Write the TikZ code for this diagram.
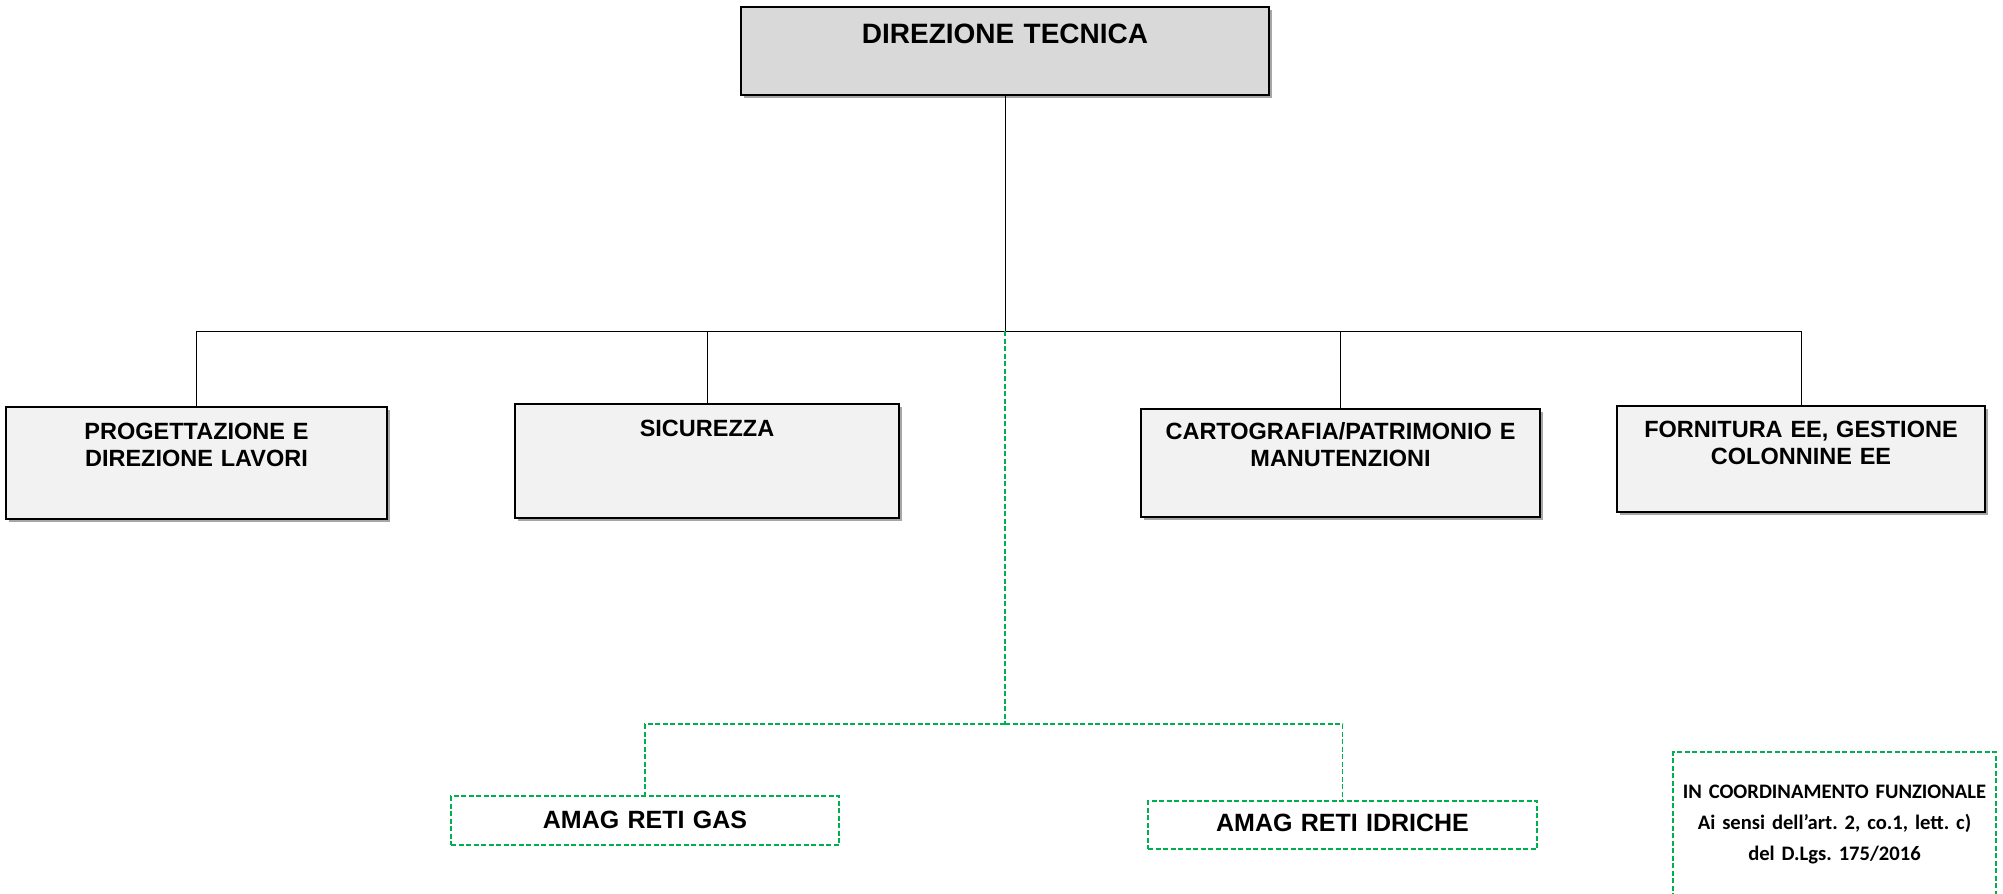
\documentclass[tikz,border=0pt]{standalone}
\usepackage{fontspec}
\setmainfont{Liberation Sans}
\newfontfamily\notefont{Carlito}
\usepackage{xcolor}
\usetikzlibrary{shadows}
\definecolor{head-gray}{HTML}{D9D9D9}
\definecolor{unit-gray}{HTML}{F2F2F2}
\definecolor{coord-green}{HTML}{00B050}
\frenchspacing
\tikzset{
    head-box/.style = {draw=black, fill=head-gray, line width=1.4pt, rectangle, anchor=base, align=center, inner sep=0pt, font=\fontsize{28}{32}\selectfont\bfseries, drop shadow={shadow xshift=3pt, shadow yshift=-3pt, fill=black, opacity=0.35}},
    unit-box/.style = {draw=black, fill=unit-gray, line width=1.2pt, rectangle, anchor=base, align=center, inner sep=0pt, font=\fontsize{23.5}{27.5}\selectfont\bfseries, drop shadow={shadow xshift=3pt, shadow yshift=-3pt, fill=black, opacity=0.35}},
    ext-box/.style = {draw=coord-green, fill=white, line width=1.4pt, dash pattern=on 5pt off 2.5pt, rectangle, anchor=base, align=center, inner sep=0pt, font=\fontsize{25}{29}\selectfont\bfseries},
    note-box/.style = {draw=coord-green, line width=1.4pt, dash pattern=on 5pt off 2.5pt, rectangle, anchor=base, align=center, inner sep=0pt, font=\notefont\fontsize{20.6}{31}\selectfont\bfseries},
    tree-line/.style = {draw=black, line width=0.9pt},
    coord-line/.style = {draw=coord-green, line width=1.4pt, dash pattern=on 5pt off 2.5pt},
}
\begin{document}
\begin{tikzpicture}[x=1pt, y=-1pt]
\useasboundingbox (0,0) rectangle (2003,894);
\node[head-box, text width=528pt, text height=36pt, text depth=52pt] (dt) at (1005,43) {DIREZIONE TECNICA};
\node[unit-box, text width=381pt, text height=32pt, text depth=80pt] (progettazione) at (196.5,439) {PROGETTAZIONE E\\DIREZIONE LAVORI};
\node[unit-box, text width=384pt, text height=32pt, text depth=82pt] (sicurezza) at (707,436) {SICUREZZA};
\node[unit-box, text width=399pt, text height=30pt, text depth=78pt] (cartografia) at (1340.5,439) {CARTOGRAFIA/PATRIMONIO E\\MANUTENZIONI};
\node[unit-box, text width=368pt, text height=31pt, text depth=75pt] (fornitura) at (1801,437) {FORNITURA EE, GESTIONE\\COLONNINE EE};
\node[ext-box, text width=388pt, text height=32pt, text depth=17pt] (gas) at (645,828) {AMAG RETI GAS};
\node[ext-box, text width=389pt, text height=30pt, text depth=18pt] (idriche) at (1342.5,831) {AMAG RETI IDRICHE};
\node[note-box, text width=323pt, text height=46pt, text depth=112pt] (nota) at (1834.5,798) {IN COORDINAMENTO FUNZIONALE\\Ai sensi dell’art. 2, co.1, lett. c)\\del D.Lgs. 175/2016};
\coordinate (bus) at (dt.south |- 0,331);
\coordinate (green-bus) at (dt.south |- 0,724);
\draw[tree-line] (dt.south) -- (bus);
\draw[tree-line] (bus) -| (progettazione.north);
\draw[tree-line] (bus) -| (sicurezza.north);
\draw[tree-line] (bus) -| (cartografia.north);
\draw[tree-line] (bus) -| (fornitura.north);
\draw[coord-line] (bus) -- (green-bus);
\draw[coord-line] (green-bus) -| (gas.north);
\draw[coord-line] (green-bus) -| (idriche.north);
\end{tikzpicture}
\end{document}
